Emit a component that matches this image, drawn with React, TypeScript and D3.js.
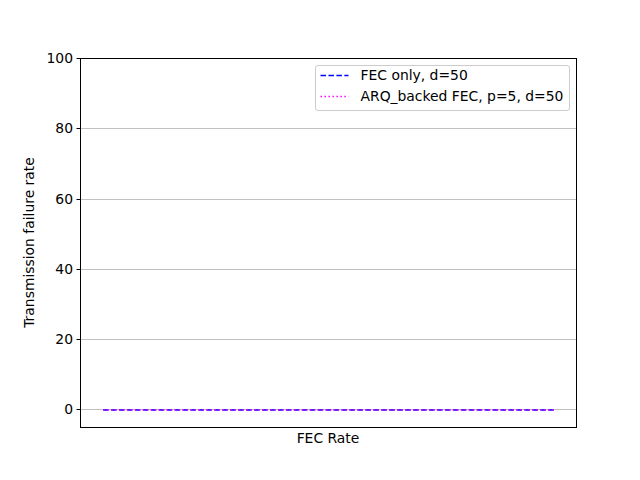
import React, { useEffect, useRef } from "react";
import * as d3 from "d3";

// FEC rates on x (axis has no tick labels), failure rate on y
const fecRates = [0.1, 0.2, 0.3, 0.4, 0.5, 0.6, 0.7, 0.8, 0.9];
const fecOnly = [0, 0, 0, 0, 0, 0, 0, 0, 0];
const arqBacked = [0, 0, 0, 0, 0, 0, 0, 0, 0];
const yTicks = [0, 20, 40, 60, 80, 100];
const seriesNames = ["FEC only, d=50", "ARQ_backed FEC, p=5, d=50"];

const App = () => {
  const ref = useRef<SVGSVGElement>(null);
  const width = 640;
  const height = 480;
  const margin = { left: 80, right: 64, top: 58, bottom: 53 };

  useEffect(() => {
    const svg = d3.select(ref.current);
    svg.selectAll("*").remove();
    const font = "DejaVu Sans, sans-serif";
    const iw = width - margin.left - margin.right;
    const ih = height - margin.top - margin.bottom;

    const ext = d3.extent(fecRates) as [number, number];
    const pad = (ext[1] - ext[0]) * 0.05;
    const x = d3.scaleLinear().domain([ext[0] - pad, ext[1] + pad]).range([0, iw]);
    const y = d3.scaleLinear().domain([-5, 100]).range([ih, 0]);

    const g = svg.append("g").attr("transform", `translate(${margin.left + 0.5},${margin.top + 0.5})`);

    // grid
    g.selectAll("line.grid")
      .data(yTicks)
      .join("line")
      .attr("class", "grid")
      .attr("x1", 0)
      .attr("x2", iw)
      .attr("y1", (d) => Math.round(y(d)))
      .attr("y2", (d) => Math.round(y(d)))
      .attr("stroke", "#b0b0b0")
      .attr("stroke-width", 0.8);

    const line = d3
      .line<number>()
      .x((_, i) => x(fecRates[i]))
      .y((d) => y(d));

    g.append("path")
      .attr("d", line(fecOnly))
      .attr("fill", "none")
      .attr("stroke", "#0000ff")
      .attr("stroke-width", 1.5)
      .attr("stroke-dasharray", "5.55,2.4");

    g.append("path")
      .attr("d", line(arqBacked))
      .attr("fill", "none")
      .attr("stroke", "#ff00ff")
      .attr("stroke-width", 1.5)
      .attr("stroke-dasharray", "1.5,2.475");

    // frame
    g.append("rect")
      .attr("width", iw)
      .attr("height", ih)
      .attr("fill", "none")
      .attr("stroke", "black")
      .attr("stroke-width", 1);

    // y ticks
    const ty = g.selectAll("g.ytick").data(yTicks).join("g").attr("class", "ytick")
      .attr("transform", (d) => `translate(0,${Math.round(y(d))})`);
    ty.append("line").attr("x1", -4).attr("x2", 0).attr("stroke", "black").attr("stroke-width", 1);
    ty.append("text")
      .attr("x", -7.5)
      .attr("dy", "0.35em")
      .attr("text-anchor", "end")
      .attr("font-family", font)
      .attr("font-size", 13.9)
      .text((d) => d);

    svg.append("text")
      .attr("transform", `translate(34,${margin.top + ih / 2}) rotate(-90)`)
      .attr("text-anchor", "middle")
      .attr("font-family", font)
      .attr("font-size", 13.9)
      .text("Transmission failure rate");

    svg.append("text")
      .attr("x", margin.left + iw / 2)
      .attr("y", 443)
      .attr("text-anchor", "middle")
      .attr("font-family", font)
      .attr("font-size", 13.9)
      .text("FEC Rate");

    // legend
    const lg = svg.append("g").attr("transform", "translate(315.5,65.5)");
    lg.append("rect")
      .attr("width", 254)
      .attr("height", 45)
      .attr("rx", 2.5)
      .attr("fill", "white")
      .attr("fill-opacity", 0.8)
      .attr("stroke", "#cccccc")
      .attr("stroke-width", 1);
    const styles = [
      { color: "#0000ff", dash: "5.55,2.4" },
      { color: "#ff00ff", dash: "1.5,2.475" },
    ];
    seriesNames.forEach((name, i) => {
      const yy = 10 + i * 21;
      lg.append("line")
        .attr("x1", 5)
        .attr("x2", 33)
        .attr("y1", yy)
        .attr("y2", yy)
        .attr("stroke", styles[i].color)
        .attr("stroke-width", 1.5)
        .attr("stroke-dasharray", styles[i].dash);
      lg.append("text")
        .attr("x", 45)
        .attr("y", yy)
        .attr("dy", "0.35em")
        .attr("font-family", font)
        .attr("font-size", 13.9)
        .text(name);
    });
  }, []);

  return <svg ref={ref} width={width} height={height} style={{ position: "absolute", left: 0, top: 0 }} />;
};

export default App;
